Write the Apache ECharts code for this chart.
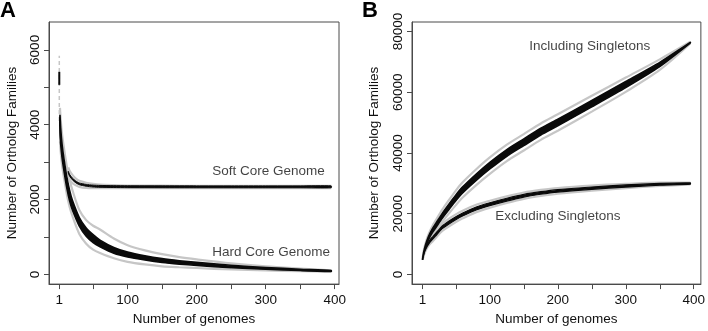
<!DOCTYPE html>
<html>
<head>
<meta charset="utf-8">
<script src="https://cdn.jsdelivr.net/npm/echarts@6/dist/echarts.min.js"></script>
<style>
  html, body { margin: 0; padding: 0; background: #fff; }
  #chart { width: 708px; height: 331px; }
</style>
</head>
<body>
<div id="chart"></div>
<script>
// Panel A: core genome (hard / soft)
const hardN = [2, 3, 5, 8, 12, 16, 20, 30, 40, 50, 60, 80, 100, 125, 150, 175, 200, 250, 300, 350, 395];
const hardLow = [3550, 3280, 2920, 2560, 2130, 1800, 1560, 1080, 820, 660, 570, 430, 335, 265, 215, 190, 170, 130, 105, 85, 75];
const hardQ1 = [3750, 3480, 3120, 2740, 2300, 1960, 1720, 1290, 1020, 850, 740, 565, 465, 385, 320, 275, 240, 178, 135, 102, 80];
const hardQ3 = [4250, 3920, 3480, 3060, 2600, 2240, 1980, 1520, 1240, 1060, 915, 720, 595, 495, 420, 365, 320, 242, 185, 138, 100];
const hardHigh = [4450, 4150, 3750, 3350, 2880, 2520, 2250, 1720, 1450, 1300, 1200, 960, 780, 640, 540, 460, 400, 295, 215, 155, 105];
// single genome column (n = 1)
const hardFirstWhisker = [4100, 5844];
const hardFirstBox = [5065, 5413];

const softN = [14, 16, 20, 25, 30, 40, 50, 60, 80, 100, 150, 200, 250, 300, 350, 395];
const softLow = [2600, 2530, 2440, 2380, 2340, 2310, 2305, 2305, 2305, 2305, 2305, 2305, 2305, 2305, 2305, 2305];
const softQ1 = [2705, 2625, 2525, 2445, 2395, 2355, 2335, 2327, 2321, 2318, 2316, 2315, 2315, 2315, 2315, 2315];
const softQ3 = [2755, 2675, 2575, 2495, 2445, 2405, 2385, 2377, 2371, 2368, 2366, 2365, 2365, 2365, 2365, 2365];
const softHigh = [2860, 2770, 2660, 2560, 2500, 2450, 2420, 2400, 2385, 2375, 2370, 2368, 2368, 2368, 2368, 2368];

// Panel B: pan genome (including / excluding singletons)
const panN = [1, 2, 3, 5, 8, 12, 16, 20, 30, 40, 50, 60, 80, 100, 125, 150, 175, 200, 250, 300, 350, 395];
const incLow = [4800, 5700, 6600, 8100, 9900, 11700, 13100, 14200, 17300, 20100, 22800, 25300, 29400, 33100, 37300, 40800, 44300, 47300, 53600, 60100, 67300, 76000];
const incQ1 = [4800, 6000, 7000, 8600, 10500, 12400, 13950, 15200, 18500, 21400, 24250, 26800, 30950, 34700, 38900, 42400, 45900, 48900, 55150, 61500, 68400, 76200];
const incQ3 = [4800, 6400, 7600, 9400, 11500, 13600, 15250, 16600, 20100, 23200, 26150, 28800, 33050, 36900, 41100, 44600, 48100, 51100, 57250, 63500, 69800, 76400];
const incHigh = [4800, 6700, 8000, 9900, 12100, 14300, 16100, 17600, 21300, 24500, 27600, 30300, 34600, 38500, 42700, 46200, 49700, 52700, 58800, 64800, 70800, 76600];

const excLow = [4800, 5600, 6400, 7550, 8800, 10050, 10950, 11900, 14300, 15850, 17250, 18450, 20500, 21950, 23500, 24850, 25800, 26550, 27550, 28400, 29100, 29600];
const excQ1 = [4800, 5850, 6700, 7950, 9300, 10650, 11620, 12600, 15050, 16620, 18000, 19200, 21200, 22620, 24140, 25460, 26380, 27100, 28020, 28750, 29350, 29700];
const excQ3 = [4800, 6150, 7100, 8450, 9900, 11350, 12380, 13400, 15950, 17580, 19000, 20200, 22200, 23580, 25060, 26340, 27220, 27900, 28780, 29450, 29950, 30100];
const excHigh = [4800, 6400, 7400, 8850, 10400, 11950, 13050, 14100, 16700, 18350, 19750, 20950, 22900, 24250, 25700, 26950, 27800, 28450, 29250, 29800, 30200, 30200];

const xTicks = [1, 50, 100, 150, 200, 250, 300, 350, 400];
const xLabels = [1, 100, 200, 300, 400];
const yTicksA = [0, 1000, 2000, 3000, 4000, 5000, 6000];
const yLabelsA = [0, 2000, 4000, 6000];
const yTicksB = [0, 20000, 40000, 60000, 80000];

const curveLabels = [
  { panel: 0, text: 'Soft Core Genome', at: [304, 2753] },
  { panel: 0, text: 'Hard Core Genome', at: [308, 590] },
  { panel: 1, text: 'Including Singletons', at: [247, 75100] },
  { panel: 1, text: 'Excluding Singletons', at: [200, 19100] },
];

const FONT = 'Liberation Sans, Arial, Helvetica, sans-serif';
const FS = 13.5;
const AXIS_COLOR = '#4a4a4a';
const GREY = '#c6c6c6';
const TEXT = '#111';

const zip = (xs, ys) => xs.map((x, i) => [x, ys[i]]);

function greyLine(idx, xs, ys) {
  return {
    type: 'line', xAxisIndex: idx, yAxisIndex: idx,
    data: zip(xs, ys), symbol: 'none', smooth: 0.3,
    lineStyle: { color: GREY, width: 2.2 }, z: 2, silent: true,
  };
}

// black interquartile band drawn as a polygon from q1/q3 through the axes
function band(idx, xs, lo, hi, stroke) {
  return {
    type: 'custom', xAxisIndex: idx, yAxisIndex: idx,
    data: [[xs[0], lo[0]]], z: 3, silent: true, clip: true,
    renderItem: (params, api) => {
      const top = xs.map((x, i) => api.coord([x, hi[i]]));
      const bot = xs.map((x, i) => api.coord([x, lo[i]])).reverse();
      return {
        type: 'polygon',
        shape: { points: top.concat(bot), smooth: 0.2 },
        style: { fill: '#0a0a0a', stroke: '#0a0a0a', lineWidth: stroke },
      };
    },
  };
}

function segment(idx, pts, style) {
  return {
    type: 'line', xAxisIndex: idx, yAxisIndex: idx,
    data: pts, symbol: 'none', lineStyle: style, z: 2, silent: true,
  };
}

function xAxisCfg(idx, min, max) {
  return {
    gridIndex: idx, type: 'value', min, max,
    name: 'Number of genomes', nameLocation: 'middle', nameGap: 26,
    nameTextStyle: { fontFamily: FONT, fontSize: FS, color: TEXT },
    axisLine: { show: true, onZero: false, lineStyle: { color: AXIS_COLOR } },
    splitLine: { show: false },
    axisTick: { show: true, customValues: xTicks, length: 5, lineStyle: { color: AXIS_COLOR } },
    axisLabel: { customValues: xLabels, margin: 9, fontFamily: FONT, fontSize: FS, color: TEXT,
      formatter: (v) => String(v) },
  };
}

function yAxisCfg(idx, min, max, ticks, labels, gap) {
  return {
    gridIndex: idx, type: 'value', min, max,
    name: 'Number of Ortholog Families', nameLocation: 'middle', nameGap: gap,
    nameTextStyle: { fontFamily: FONT, fontSize: FS, color: TEXT },
    axisLine: { show: true, onZero: false, lineStyle: { color: AXIS_COLOR } },
    splitLine: { show: false },
    axisTick: { show: true, customValues: ticks, length: 5, lineStyle: { color: AXIS_COLOR } },
    axisLabel: { customValues: labels, rotate: 90, margin: 7, fontFamily: FONT, fontSize: FS, color: TEXT,
      formatter: (v) => String(v) },
  };
}

const labelSeries = [0, 1].map((p) => ({
  type: 'scatter', xAxisIndex: p, yAxisIndex: p, symbolSize: 1, z: 5, silent: true,
  itemStyle: { color: 'rgba(0,0,0,0)' },
  data: curveLabels.filter((l) => l.panel === p).map((l) => ({ value: l.at, name: l.text })),
  label: {
    show: true, position: 'inside', formatter: (d) => d.name,
    fontFamily: FONT, fontSize: FS, color: TEXT,
  },
}));

const chart = echarts.init(document.getElementById('chart'), null, { renderer: 'canvas' });
chart.setOption({
  animation: false,
  backgroundColor: '#fff',
  title: [
    { text: 'A', left: 0, top: 0, textStyle: { fontFamily: FONT, fontSize: 22, fontWeight: 'bold', color: '#000' }, padding: 0 },
    { text: 'B', left: 362, top: 0, textStyle: { fontFamily: FONT, fontSize: 22, fontWeight: 'bold', color: '#000' }, padding: 0 },
  ],
  grid: [
    { left: 49, top: 22, width: 290, height: 270, show: true, borderColor: AXIS_COLOR, borderWidth: 1, backgroundColor: 'transparent' },
    { left: 412, top: 22, width: 290, height: 270, show: true, borderColor: AXIS_COLOR, borderWidth: 1, backgroundColor: 'transparent' },
  ],
  xAxis: [xAxisCfg(0, -13.9, 406.2), xAxisCfg(1, -14.5, 410.5)],
  yAxis: [
    yAxisCfg(0, -260, 6745, yTicksA, yLabelsA, 30),
    yAxisCfg(1, -3200, 83100, yTicksB, yTicksB, 31),
  ],
  series: [
    segment(0, [[1, hardFirstWhisker[0]], [1, hardFirstWhisker[1]]], { color: GREY, width: 1.5, type: [4, 3] }),
    segment(0, [[1, hardFirstBox[0]], [1, hardFirstBox[1]]], { color: '#0a0a0a', width: 2 }),
    greyLine(0, hardN, hardLow), greyLine(0, hardN, hardHigh),
    band(0, hardN, hardQ1, hardQ3, 1.6),
    greyLine(0, softN, softLow), greyLine(0, softN, softHigh),
    band(0, softN, softQ1, softQ3, 1),
    greyLine(1, panN, incLow), greyLine(1, panN, incHigh),
    band(1, panN, incQ1, incQ3, 1.6),
    greyLine(1, panN, excLow), greyLine(1, panN, excHigh),
    band(1, panN, excQ1, excQ3, 1.2),
    ...labelSeries,
  ],
});
</script>
</body>
</html>
